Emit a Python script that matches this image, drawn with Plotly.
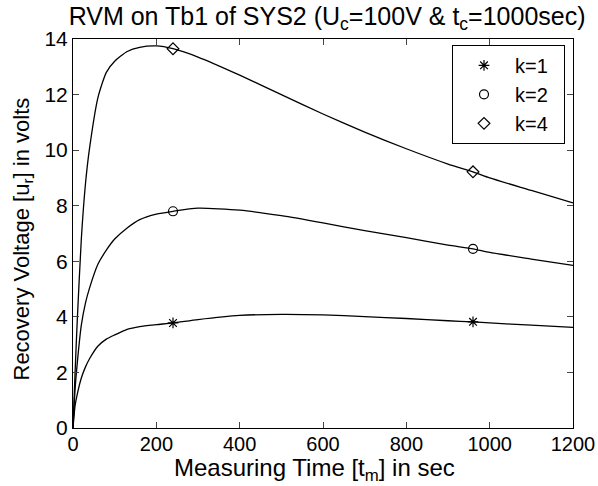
import plotly.graph_objects as go

t = [0, 5, 10, 20, 30, 40, 60, 80, 100, 130, 160, 200, 240, 300, 400, 500, 600, 700, 800, 900, 960, 1000, 1100, 1200]
k1 = [0, 0.8, 1.2, 1.8, 2.2, 2.5, 2.95, 3.2, 3.35, 3.55, 3.65, 3.72, 3.78, 3.9, 4.05, 4.09, 4.07, 4.01, 3.94, 3.86, 3.82, 3.78, 3.7, 3.62]
k2 = [0, 1.4, 2.3, 3.7, 4.5, 5.05, 5.9, 6.4, 6.8, 7.2, 7.5, 7.7, 7.8, 7.91, 7.84, 7.64, 7.38, 7.1, 6.85, 6.58, 6.45, 6.32, 6.08, 5.85]
k4 = [0, 2.0, 3.8, 6.8, 8.8, 10.1, 11.9, 12.8, 13.2, 13.55, 13.7, 13.75, 13.65, 13.35, 12.7, 12.0, 11.3, 10.65, 10.05, 9.5, 9.22, 9.0, 8.55, 8.1]

marker_t = [240, 960]
labels = ["k=1", "k=2", "k=4"]
symbols = ["asterisk-open", "circle-open", "diamond-open"]
series = [k1, k2, k4]

title_text = "RVM on Tb1 of SYS2 (U<sub>c</sub>=100V & t<sub>c</sub>=1000sec)"
xtitle_text = "Measuring Time [t<sub>m</sub>] in sec"
ytitle_text = "Recovery Voltage [u<sub>r</sub>] in volts"

fig = go.Figure()
for ys in series:
    fig.add_trace(go.Scatter(x=t, y=ys, mode="lines", line=dict(color="black", width=1.3, shape="spline", smoothing=0.6),
                             showlegend=False, hoverinfo="skip"))
for ys, lab, sym in zip(series, labels, symbols):
    my = [ys[t.index(m)] for m in marker_t]
    fig.add_trace(go.Scatter(x=marker_t, y=my, mode="markers", name=lab + "\u00a0\u00a0",
                             marker=dict(symbol=sym, size=9, color="black", line=dict(color="black", width=1.2))))

font = "Liberation Sans, Arial, Helvetica, sans-serif"
fig.update_layout(
    width=598, height=486,
    margin=dict(l=73, r=25, t=39, b=58, autoexpand=False),
    paper_bgcolor="white", plot_bgcolor="white",
    font=dict(family=font, color="black", size=21),
    title=dict(text=title_text, x=0.547, xanchor="center", y=0.967, yanchor="middle", font=dict(size=25)),
    legend=dict(x=0.984, xanchor="right", y=0.985, yanchor="top", bordercolor="black", borderwidth=1,
                bgcolor="white", font=dict(size=20), itemwidth=52, tracegroupgap=0),
    showlegend=True,
    annotations=[
        dict(text=xtitle_text, xref="paper", yref="paper", x=0.5, y=0, xanchor="center", yanchor="top",
             xshift=-9, yshift=-24, showarrow=False, font=dict(size=24)),
        dict(text=ytitle_text, xref="paper", yref="paper", x=0, y=0.5, xanchor="center", yanchor="middle",
             xshift=-51, yshift=-6, textangle=-90, showarrow=False, font=dict(size=22)),
    ],
)
fig.update_xaxes(range=[0, 1200], tickvals=[0, 200, 400, 600, 800, 1000, 1200], ticks="inside", ticklen=6,
                 showline=True, linecolor="black", linewidth=1, mirror="ticks", showgrid=False, zeroline=False,
                 tickfont=dict(size=20), ticklabelstandoff=-2, automargin=False)
fig.update_yaxes(range=[0, 14], tickvals=[0, 2, 4, 6, 8, 10, 12, 14], ticks="inside", ticklen=6,
                 showline=True, linecolor="black", linewidth=1, mirror="ticks", showgrid=False, zeroline=False,
                 tickfont=dict(size=21), automargin=False)

fig.write_html("out.html")
